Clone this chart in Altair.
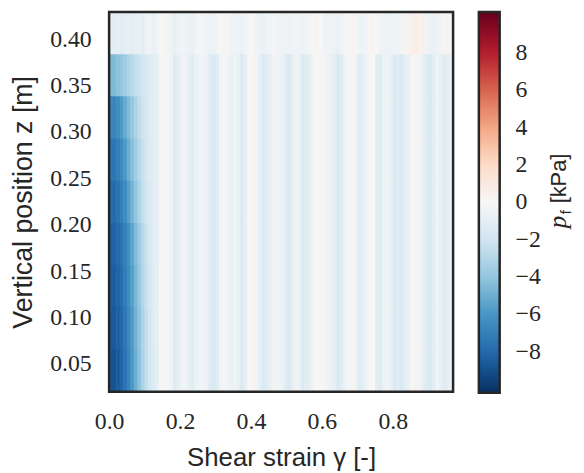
import altair as alt
import pandas as pd

# ---- data ----
col_width = 0.01          # shear-strain step of each column
n_cols = 97               # columns from 0.00 to 0.97
z_edges = [0.020, 0.0655, 0.111, 0.1565, 0.202, 0.2475, 0.293, 0.3385, 0.384, 0.4295]

# left block (x 0.00-0.13), rows 0..7 from bottom (p_f in kPa)
left_block = [
    [-8.8, -8.9, -8.6, -8.2, -7.6, -6.8, -5.9, -5.0, -4.2, -3.3, -2.5, -1.9, -1.4],
    [-8.6, -8.7, -8.4, -8.0, -7.4, -6.6, -5.8, -4.9, -4.1, -3.2, -2.4, -1.8, -1.3],
    [-8.4, -8.5, -8.2, -7.8, -7.2, -6.4, -5.6, -4.7, -3.9, -3.0, -2.3, -1.7, -1.3],
    [-8.2, -8.3, -8.0, -7.5, -7.0, -6.2, -5.4, -4.5, -3.7, -2.9, -2.2, -1.6, -1.2],
    [-7.8, -8.0, -7.6, -7.0, -6.4, -5.6, -4.8, -4.0, -3.2, -2.5, -1.9, -1.5, -1.1],
    [-7.4, -7.5, -7.1, -6.5, -5.9, -5.0, -4.3, -3.6, -2.9, -2.3, -1.8, -1.4, -1.1],
    [-6.6, -6.8, -6.4, -5.8, -5.2, -4.5, -3.9, -3.2, -2.6, -2.1, -1.7, -1.3, -1.0],
    [-4.6, -4.5, -4.2, -3.9, -3.6, -3.2, -2.8, -2.5, -2.2, -1.9, -1.6, -1.3, -1.0],
]

# stripes of rows 0..7 for columns 13..96
stripe_mid = [
    -1.0, 0.2, 0.1, -0.2, -0.4, -1.3, -1.0, -0.5, -0.4, -0.8,
    -1.4, -0.7, -0.4, -0.3, -0.6, -1.3, -1.6, -1.2, -0.5, -0.2,
    -0.4, -0.7, -0.5, -0.9, -1.5, -0.8, 0.1, 0.2, -0.3, -0.9,
    -1.5, -1.3, -0.8, -0.3, -0.4, -0.6, -1.0, -1.6, -1.2, -0.4,
    -0.6, -1.4, -1.2, -1.0, -0.3, 0.1, 0.2, -0.2, -0.5, -0.7,
    -1.0, -1.5, -1.3, -0.6, -0.2, 0.2, -0.5, -1.3, -1.1, -0.5,
    0.1, 0.0, -1.2, -1.4, -0.6, -0.5, -0.9, -1.5, -1.3, -1.6,
    -1.1, -0.7, 0.1, 0.3, -0.3, -0.8, -1.4, -1.6, -1.2, -0.5,
    -0.7, -1.3, -1.1, -0.6,
]

# top row (z 0.384-0.43), columns 0..96
stripe_top = [
    -1.0, -1.1, -0.9, -1.2, -1.0, -0.8, -1.1, -0.9, -0.7, -1.0,
    -0.6, -0.5, -0.7, -0.5, 0.1, 0.2, -0.3, -0.5, -0.8, -0.6,
    -0.3, -0.4, -0.6, -0.8, -0.4, -0.2, -0.3, -0.5, -0.6, -0.6,
    -0.3, 0.1, 0.2, -0.2, -0.4, -0.6, -0.5, -0.6, -0.3, 0.1,
    0.0, -0.4, -0.6, -0.7, -0.5, -0.3, -0.2, -0.4, -0.6, -0.5,
    -0.6, -0.4, -0.3, -0.4, -0.6, -0.5, -0.3, 0.2, 0.3, -0.1,
    -0.4, -0.6, -0.5, -0.6, -0.7, -0.5, -0.2, 0.2, 0.3, -0.2,
    -0.5, -0.6, -0.3, 0.2, 0.3, 0.1, -0.3, -0.5, -0.6, -0.6,
    -0.4, -0.5, -0.3, 0.3, 0.4, 0.6, 0.7, 0.4, 0.6, -0.4,
    -0.6, -0.7, -0.6, -0.3, 0.2, 0.3, -0.2,
]

x_ticks = [0.0, 0.2, 0.4, 0.6, 0.8]
y_ticks = [0.05, 0.10, 0.15, 0.20, 0.25, 0.30, 0.35, 0.40]
cbar_ticks = [-8, -6, -4, -2, 0, 2, 4, 6, 8]
cmap_colors = ["#053061", "#2166ac", "#4393c3", "#92c5de", "#d1e5f0", "#f7f7f7",
               "#fddbc7", "#f4a582", "#d6604d", "#b2182b", "#67001f"]
vmax = 10.2
cbar_title_parts = ["p", "f", "[kPa]"]
seam = 0.0015   # small overlap so neighbouring cells leave no hairline gaps

# ---- table ----
rows = []
for r in range(9):
    for k in range(n_cols):
        if r == 8:
            v = stripe_top[k]
        elif k < 13:
            v = left_block[r][k]
        else:
            v = stripe_mid[k - 13]
        rows.append({"x0": k * col_width, "x1": (k + 1) * col_width + seam,
                     "z0": z_edges[r], "z1": z_edges[r + 1] + seam, "p": v})
df = pd.DataFrame(rows)

n = len(cmap_colors)
cdomain = [-vmax + 2 * vmax * i / (n - 1) for i in range(n)]
cscale = alt.Scale(domain=cdomain, range=cmap_colors, interpolate="rgb", clamp=True)

TXT = "#262626"
W, H = 347, 383
heat = alt.Chart(df).mark_rect(clip=True).encode(
    x=alt.X("x0:Q", scale=alt.Scale(domain=[0, 0.97], nice=False, zero=False),
            axis=alt.Axis(values=x_ticks, format=".1f", title="Shear strain γ [-]",
                          labelFont="Liberation Serif", labelFontSize=24,
                          titleFont="Liberation Sans", titleFontSize=26,
                          titleFontWeight="normal", labelColor=TXT, titleColor=TXT,
                          ticks=False, domain=False, grid=False, labelFlush=False,
                          labelPadding=18, titlePadding=11)),
    x2="x1:Q",
    y=alt.Y("z0:Q", scale=alt.Scale(domain=[0.02, 0.4295], nice=False, zero=False),
            axis=alt.Axis(values=y_ticks, format=".2f", title="Vertical position z [m]",
                          labelFont="Liberation Serif", labelFontSize=24,
                          titleFont="Liberation Sans", titleFontSize=27,
                          titleFontWeight="normal", labelColor=TXT, titleColor=TXT,
                          ticks=False, domain=False, grid=False, labelFlush=False,
                          labelPadding=18, titlePadding=12)),
    y2="z1:Q",
    color=alt.Color("p:Q", scale=cscale,
                    legend=alt.Legend(type="gradient", title=None, orient="right",
                                      offset=26, padding=0, direction="vertical",
                                      gradientLength=384, gradientThickness=21,
                                      gradientStrokeColor=TXT, gradientStrokeWidth=2.5,
                                      values=cbar_ticks, format="d",
                                      labelFont="Liberation Serif", labelFontSize=24,
                                      labelColor=TXT, labelOffset=16, labelOverlap=False)),
)

frame = alt.Chart(pd.DataFrame({"t": [0]})).mark_rect(
    fill=None, stroke=TXT, strokeWidth=2.5
).encode(x=alt.value(0), x2=alt.value(W), y=alt.value(0), y2=alt.value(H))

tdf = pd.DataFrame({"t": cbar_title_parts})
t_p = alt.Chart(tdf).transform_filter("datum.t == 'p'").mark_text(
    angle=270, align="center", baseline="alphabetic", font="Liberation Serif",
    fontStyle="italic", fontSize=25, color=TXT
).encode(text="t:N", x=alt.value(461), y=alt.value(212))
t_f = alt.Chart(tdf).transform_filter("datum.t == 'f'").mark_text(
    angle=270, align="center", baseline="alphabetic", font="Liberation Sans",
    fontSize=15, color=TXT
).encode(text="t:N", x=alt.value(466), y=alt.value(202))
t_u = alt.Chart(tdf).transform_filter("datum.t == '[kPa]'").mark_text(
    angle=270, align="center", baseline="alphabetic", font="Liberation Sans",
    fontSize=22, color=TXT
).encode(text="t:N", x=alt.value(461), y=alt.value(168))

chart = alt.layer(heat, frame, t_p, t_f, t_u).properties(
    width=W, height=H,
    padding={"left": 102, "top": 2, "right": 124, "bottom": 78},
    autosize=alt.AutoSizeParams(type="none"),
    background="white",
).configure_view(stroke=None)

chart.save("out.html", embed_options={"renderer": "svg", "actions": False})
